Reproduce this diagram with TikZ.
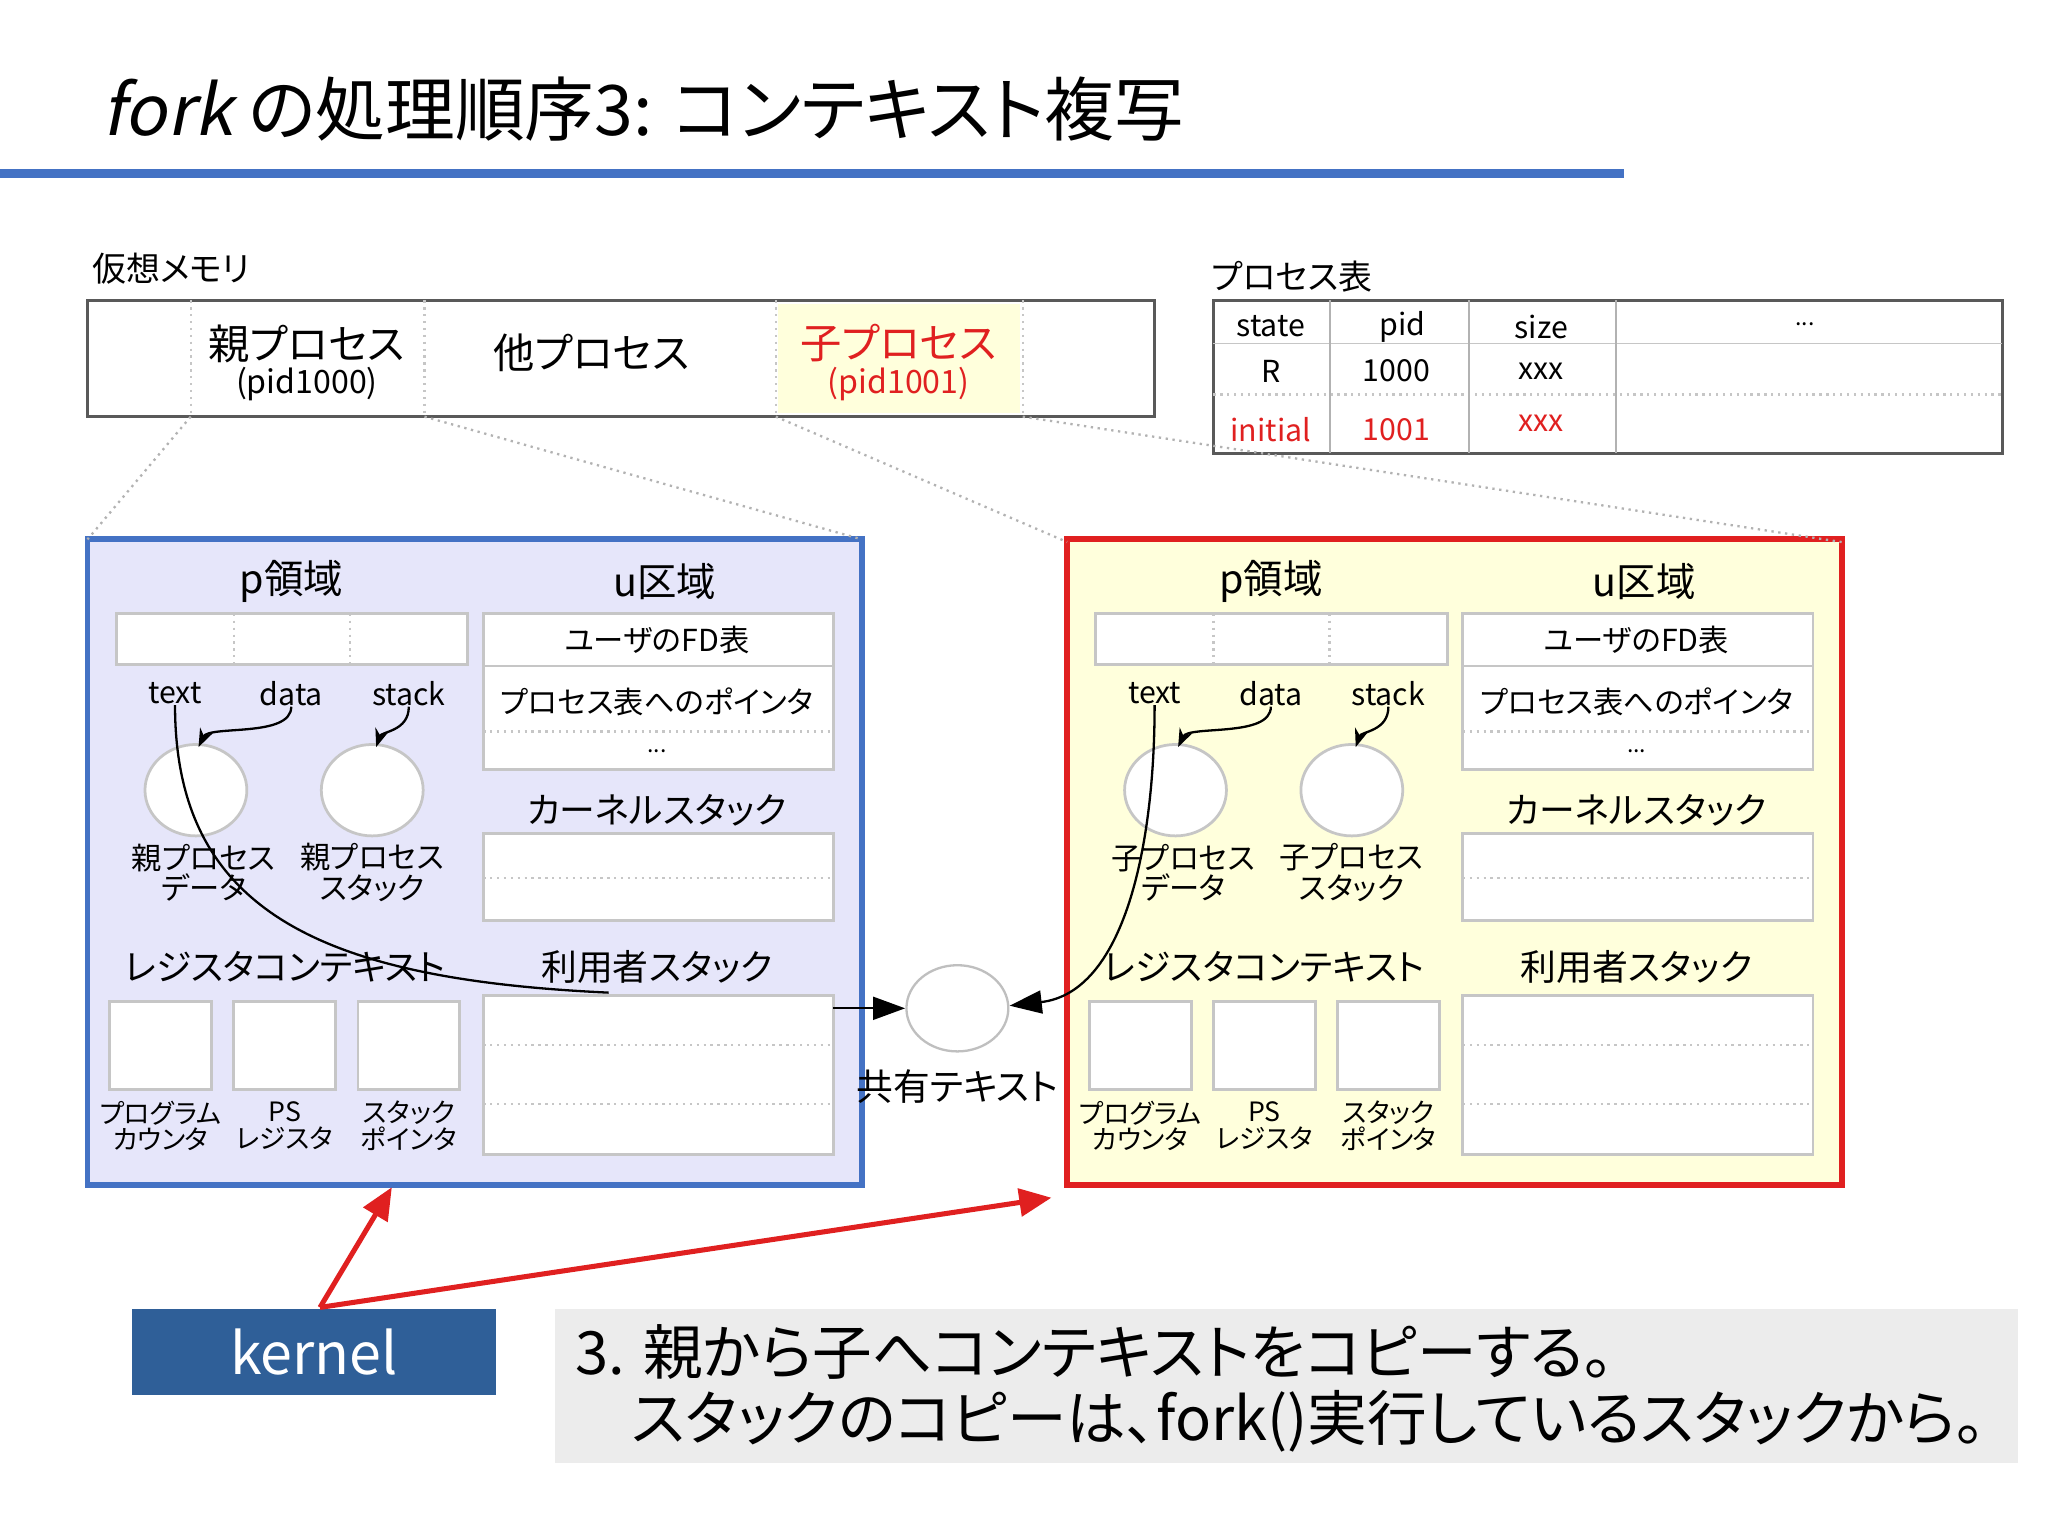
\documentclass[tikz,border=0pt]{standalone}
\usepackage{fontspec}
\setmainfont{Noto Sans CJK JP}[AutoFakeSlant=0.2,RawFeature=+palt]
\usetikzlibrary{arrows.meta}
\definecolor{lav}{HTML}{E6E6FA}
\definecolor{lyel}{HTML}{FFFFDC}
\definecolor{bblue}{HTML}{4472C4}
\definecolor{kblue}{HTML}{2F5F98}
\definecolor{rred}{HTML}{E02020}
\newcommand{\fs}[1]{\fontsize{#1}{#1}\selectfont}
\tikzset{
 cell/.style={draw=gray!45, fill=white, line width=0.6pt},
 sep/.style={draw=gray!45, densely dotted, line width=0.5pt},
 lbl/.style={inner sep=0pt, font=\fs{6.6pt}, align=center},
 head/.style={inner sep=0pt, font=\fs{8.6pt}},
 proj/.style={draw=gray!60, densely dotted, line width=0.5pt},
 pt/.style={-{Stealth[length=4pt]}, line width=0.5pt},
 redarr/.style={-{Triangle[length=7pt,width=6pt]}, draw=rred, line width=1.1pt},
}
\newcommand{\area}[4]{% #1 dx, #2 fill, #3 border, #4 name
\begin{scope}[xshift=#1*0.1mm]
 \draw[fill=#2, draw=#3, line width=1.3pt] (67,413) rectangle (660,907);
 \node[head] at (223,445) {p領域};
 \node[head] at (509,445) {u区域};
 \draw[cell] (89,470) rectangle (358,509);
 \draw[sep] (179,470)--(179,509) (268,470)--(268,509);
 \node[lbl] (#4t) at (134,531) {text};
 \node[lbl] (#4d) at (223,531) {data};
 \node[lbl] (#4s) at (313,531) {stack};
 \draw[cell] (150,605) ellipse (39 and 35);
 \draw[cell] (285,605) ellipse (39 and 35);
 \coordinate (#4e1) at (152,572); \coordinate (#4e2) at (288,572);
 \draw[pt] (#4d.south) .. controls (223,565) and (160,555) .. (#4e1);
 \draw[pt] (#4s.south) .. controls (313,560) and (292,560) .. (#4e2);
 \draw[cell] (370,470) rectangle (638,589);
 \draw[draw=gray!45] (370,510)--(638,510);
 \draw[sep] (370,560)--(638,560);
 \node[lbl,font=\fs{6.6pt}] at (503,490) {ユーザのFD表};
 \node[lbl,font=\fs{6.6pt}] at (503,537) {プロセス表へのポインタ};
 \node[lbl,font=\fs{5pt}] at (503,575) {...};
 \node[head,font=\fs{7.8pt}] at (503,620) {カーネルスタック};
 \draw[cell] (370,638) rectangle (638,705);
 \draw[sep] (370,672)--(638,672);
 \node[head,font=\fs{7.8pt}] at (503,740) {利用者スタック};
 \draw[cell] (370,762) rectangle (638,884);
 \draw[sep] (370,800)--(638,800) (370,845)--(638,845);
 \node[head,font=\fs{7.8pt}] at (218,740) {レジスタコンテキスト};
 \draw[cell] (84,767) rectangle (162,834);
 \draw[cell] (179,767) rectangle (257,834);
 \draw[cell] (274,767) rectangle (352,834);
 \node[lbl,font=\fs{5.8pt}] at (123,862) {プログラム\\[0pt]カウンタ};
 \node[lbl,font=\fs{5.8pt}] at (218,862) {PS\\[0pt]レジスタ};
 \node[lbl,font=\fs{5.8pt}] at (313,862) {スタック\\[0pt]ポインタ};
\end{scope}}
\begin{document}
\begin{tikzpicture}[x=0.1mm,y=-0.1mm]
\useasboundingbox (0,0) rectangle (1568,1175);
\fill[white] (0,0) rectangle (1568,1175);
% title
\node[anchor=base west, inner sep=0pt, font=\fs{15.2pt}] (title) at (78,104) {\textit{fork} の処理順序3: コンテキスト複写};
\draw[bblue, line width=2pt] (0,133)--(1243,133);
% virtual memory
\node[anchor=west, inner sep=0pt, font=\fs{7.4pt}] (vm) at (70,206) {仮想メモリ};
\fill[lyel] (596,233) rectangle (781,316);
\draw[gray!70!black, line width=0.6pt] (67,230) rectangle (884,319);
\draw[sep] (146,230)--(146,319) (325,230)--(325,319) (594,230)--(594,319) (783,230)--(783,319);
\node[lbl,font=\fs{9pt}] (pp) at (235,263) {親プロセス};
\node[lbl,font=\fs{7pt}] at (235,294) {(pid1000)};
\node[lbl,font=\fs{9pt}] (op) at (453,270) {他プロセス};
\node[lbl,font=\fs{9pt},text=rred] (cp) at (688,263) {子プロセス};
\node[lbl,font=\fs{7pt},text=rred] at (688,294) {(pid1001)};
% process table
\node[anchor=west, inner sep=0pt, font=\fs{7.4pt}] (pt) at (927,212) {プロセス表};
\draw[gray!70!black, line width=0.6pt] (929,230) rectangle (1533,347);
\draw[draw=gray!45] (929,263)--(1533,263);
\draw[sep] (929,302)--(1533,302);
\draw[draw=gray!60] (1018,230)--(1018,347) (1125,230)--(1125,347) (1237,230)--(1237,347);
\node[lbl] at (973,250) {state};
\node[lbl] at (1074,250) {pid};
\node[lbl] at (1180,250) {size};
\node[lbl,font=\fs{5pt}] at (1382,248) {...};
\node[lbl] at (973,284) {R};
\node[lbl] at (1069,284) {1000};
\node[lbl] at (1180,284) {xxx};
\node[lbl,text=rred] at (973,329) {initial};
\node[lbl,text=rred] at (1069,329) {1001};
\node[lbl,text=rred] at (1180,324) {xxx};
% areas
\area{0}{lav}{bblue}{A}
\area{750}{lyel}{rred}{B}
\node[lbl,font=\fs{6.6pt}] at (156,668) {親プロセス\\[0pt]データ};
\node[lbl,font=\fs{6.6pt}] at (285,668) {親プロセス\\[0pt]スタック};
\node[lbl,font=\fs{6.6pt}] at (906,668) {子プロセス\\[0pt]データ};
\node[lbl,font=\fs{6.6pt}] at (1035,668) {子プロセス\\[0pt]スタック};
% projection lines
\draw[proj] (146,319)--(67,413);
\draw[proj] (325,319)--(660,413);
\draw[proj] (594,319)--(817,415);
\draw[proj] (783,319)--(1410,415);
% shared text
\draw[draw=gray!50, fill=white, line width=0.5pt] (733,772) ellipse (39 and 33);
\coordinate (sh) at (733,772);
\node[head,font=\fs{8pt}] (shl) at (733,832) {共有テキスト};
\draw[line width=0.5pt] (At.south) .. controls (134,700) and (250,750) .. (466,760);
\draw[-{Triangle[length=7pt,width=5pt]}, line width=0.5pt] (638,772)--(693,772);
\draw[-{Triangle[length=7pt,width=5pt]}, line width=0.5pt] (Bt.south) .. controls (884,650) and (860,760) .. (773,770);
% kernel
\node[fill=kblue, minimum width=279*0.1mm, minimum height=66*0.1mm, inner sep=0pt, text=white, font=\fs{12.5pt}] (k) at (240.5,1035) {kernel};
\coordinate (ko) at (245,1001);
\draw[redarr] (ko)--(300,909);
\draw[redarr] (ko)--(805,917);
% note
\fill[gray!15] (425,1002) rectangle (1545,1120);
\node[anchor=west, inner sep=0pt, font=\fs{13pt}] (n1) at (440,1035) {3. 親から子へコンテキストをコピーする。};
\node[anchor=west, inner sep=0pt, font=\fs{13pt}] (n2) at (483,1088) {スタックのコピーは、fork()実行しているスタックから。};
\end{tikzpicture}
\end{document}
